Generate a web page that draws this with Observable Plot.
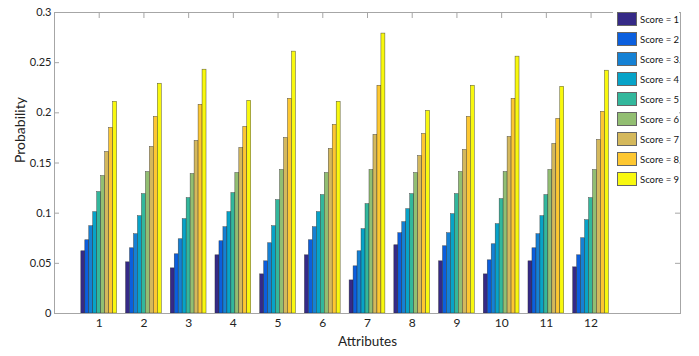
<!DOCTYPE html>
<html><head><meta charset="utf-8">
<script src="https://cdn.jsdelivr.net/npm/d3@7"></script>
<script src="https://cdn.jsdelivr.net/npm/@observablehq/plot@0.6"></script>
<style>
body{margin:0;background:#fff;}
#wrap{position:relative;width:699px;height:356px;font-family:Lato,"Open Sans",sans-serif;}
#legend{position:absolute;left:613px;top:4px;width:66px;height:188px;background:#fff;}
.item{position:absolute;left:4px;height:14px;display:flex;align-items:center;font-size:9.5px;color:#111;white-space:nowrap;}
.sw{width:20px;height:14px;border:1px solid #666;margin-right:3px;box-sizing:border-box;}
</style></head><body><div id="wrap"></div>
<script>
const attributes = [1,2,3,4,5,6,7,8,9,10,11,12];
const score1 = [0.062,0.051,0.045,0.058,0.039,0.058,0.033,0.068,0.052,0.039,0.052,0.046];
const score2 = [0.073,0.065,0.059,0.072,0.052,0.073,0.047,0.080,0.067,0.053,0.065,0.058];
const score3 = [0.087,0.079,0.074,0.086,0.070,0.086,0.062,0.091,0.080,0.069,0.079,0.075];
const score4 = [0.101,0.097,0.094,0.101,0.087,0.101,0.084,0.104,0.099,0.089,0.097,0.093];
const score5 = [0.121,0.119,0.115,0.120,0.113,0.118,0.109,0.119,0.119,0.114,0.118,0.115];
const score6 = [0.137,0.141,0.139,0.140,0.143,0.140,0.143,0.140,0.141,0.141,0.143,0.143];
const score7 = [0.161,0.166,0.172,0.165,0.175,0.164,0.178,0.157,0.163,0.176,0.169,0.173];
const score8 = [0.185,0.196,0.208,0.186,0.214,0.188,0.227,0.179,0.196,0.214,0.194,0.201];
const score9 = [0.211,0.229,0.243,0.212,0.261,0.211,0.279,0.202,0.227,0.256,0.226,0.242];
const seriesLabels = ["Score = 1","Score = 2","Score = 3","Score = 4","Score = 5","Score = 6","Score = 7","Score = 8","Score = 9"];
const seriesColors = ["#352a87","#0b5fde","#1581d4","#07a3c8","#33b79c","#92be72","#d4b85c","#fdc731","#f8f80f"];
const yTicks = [0,0.05,0.1,0.15,0.2,0.25,0.3];
const yTickLabels = ["0","0.05","0.1","0.15","0.2","0.25","0.3"];
const xLabel = "Attributes";
const yLabel = "Probability";

const series = [score1,score2,score3,score4,score5,score6,score7,score8,score9];
const rows = [];
series.forEach((vals, k) => vals.forEach((v, i) => rows.push({attr: attributes[i], k, label: seriesLabels[k], value: v})));

const W = 699, H = 356, mL = 54, mR = 19, mT = 12, mB = 43;
const pw = W - mL - mR, ph = H - mT - mB;
const nS = series.length;
const bw = 0.8 / nS;
const axisColor = "#a6a6a6";

const chart = Plot.plot({
  width: W, height: H,
  marginLeft: mL, marginRight: mR, marginTop: mT, marginBottom: mB,
  style: {fontFamily: "Lato, 'Open Sans', sans-serif", background: "#fff", color: "#222"},
  x: {type: "linear", domain: [0, 14], axis: null},
  y: {domain: [0, 0.3], axis: null},
  color: {domain: seriesLabels, range: seriesColors},
  marks: [
    Plot.rectY(rows, {
      x1: d => d.attr + (d.k - nS / 2) * bw,
      x2: d => d.attr + (d.k + 1 - nS / 2) * bw,
      y1: 0, y2: "value", fill: "label",
      stroke: "#2a2a2a", strokeWidth: 0.5, strokeOpacity: 0.8
    }),
    Plot.frame({stroke: axisColor}),
    Plot.tickY(yTicks, {y: d => d, insetRight: pw - 5, stroke: axisColor}),
    Plot.tickY(yTicks, {y: d => d, insetLeft: pw - 5, stroke: axisColor}),
    Plot.tickX(attributes, {x: d => d, insetBottom: ph - 6, stroke: axisColor}),
    Plot.axisY(yTicks, {tickSize: 0, tickPadding: 3, tickFormat: d => yTickLabels[yTicks.indexOf(d)], fontSize: 11, label: null}),
    Plot.axisX(attributes, {tickSize: 0, tickPadding: 5, fontSize: 12, label: null}),
    Plot.text([yLabel], {text: d => d, frameAnchor: "left", dx: -34, rotate: -90, fontSize: 14}),
    Plot.text([xLabel], {text: d => d, frameAnchor: "bottom", dy: 32, fontSize: 13.5})
  ]
});
const wrap = document.getElementById("wrap");
wrap.appendChild(chart);
const legend = document.createElement("div");
legend.id = "legend";
seriesLabels.forEach((lab, k) => {
  const it = document.createElement("div");
  it.className = "item";
  it.style.top = (8 + 20 * k) + "px";
  const sw = document.createElement("div");
  sw.className = "sw";
  sw.style.background = seriesColors[k];
  const t = document.createElement("span");
  t.textContent = lab;
  it.appendChild(sw); it.appendChild(t);
  legend.appendChild(it);
});
wrap.appendChild(legend);
</script></body></html>
